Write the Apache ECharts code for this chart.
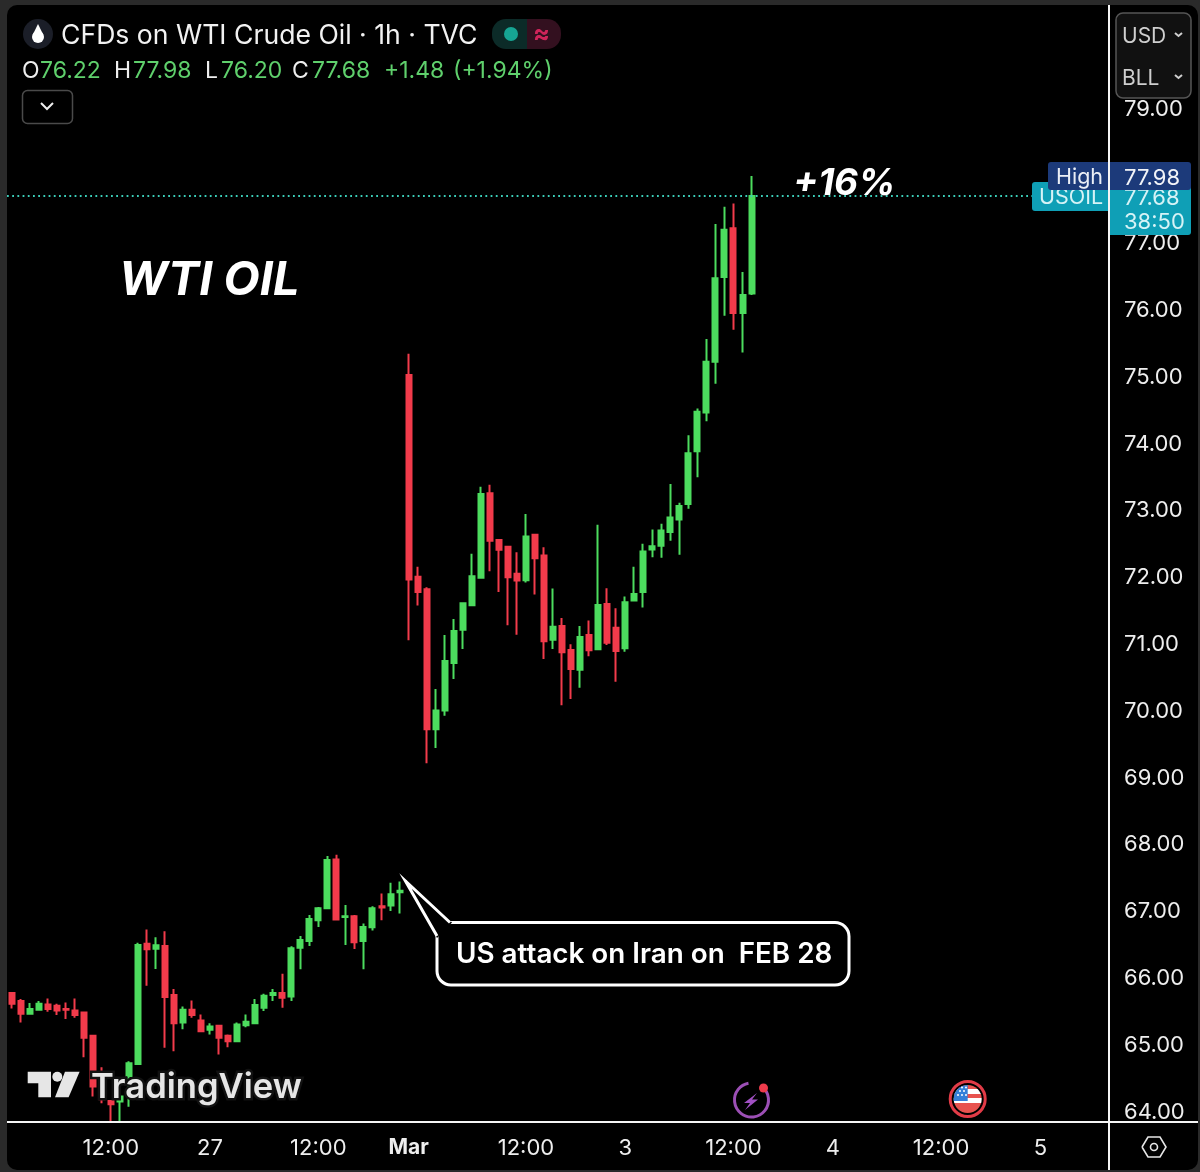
<!DOCTYPE html>
<html>
<head>
<meta charset="utf-8">
<style>
  html, body { margin: 0; padding: 0; background: #2a2a2a; }
  #main { width: 1200px; height: 1172px; }
</style>
<script src="https://cdn.jsdelivr.net/npm/echarts@6/dist/echarts.min.js"></script>
</head>
<body>
<div id="main"></div>
<script>
// hourly candles
var opens = [65.75,65.63,65.44,65.50,65.58,65.56,65.51,65.49,65.46,65.11,64.35,64.135,64.125,64.51,64.69,66.49,66.415,66.455,65.72,65.31,65.50,65.34,65.20,65.26,65.11,65.03,65.27,65.30,65.53,65.72,65.75,65.70,66.43,66.53,66.84,67.02,67.75,66.89,66.90,66.53,66.735,67.05,67.06,67.26,
  75.00,71.98,71.795,69.70,69.98,70.69,71.19,71.555,71.965,73.23,72.53,72.43,72.025,71.93,72.61,72.30,71.04,71.245,70.885,70.59,71.11,70.895,71.575,71.22,70.91,71.625,71.755,72.39,72.445,72.65,72.84,73.07,73.86,74.44,75.20,76.47,77.20,75.93,76.22];
var closes = [65.59,65.44,65.51,65.59,65.51,65.49,65.50,65.42,65.08,64.35,64.16,64.085,64.20,64.70,66.47,66.405,66.465,65.69,65.30,65.50,65.42,65.18,65.25,65.08,65.03,65.28,65.32,65.57,65.71,65.75,65.68,66.42,66.545,66.86,67.02,67.74,66.85,66.90,66.51,66.74,67.02,67.03,67.23,67.28,
  71.94,71.755,69.70,69.98,70.72,71.17,71.585,71.99,73.22,72.52,72.385,71.975,71.925,72.585,72.26,71.015,71.235,70.85,70.60,71.08,70.88,71.56,70.995,70.87,71.60,71.725,72.36,72.44,72.675,72.87,73.04,73.83,74.45,75.20,76.45,77.175,75.93,76.20,77.68];
var lows = [65.52,65.31,65.43,65.50,65.47,65.42,65.36,65.38,64.79,64.20,64.10,63.82,63.82,64.05,64.69,65.86,66.11,64.93,64.88,65.21,65.38,65.18,65.13,64.83,64.94,65.02,65.24,65.30,65.48,65.63,65.53,65.63,66.105,66.455,66.74,67.02,66.84,66.47,66.41,66.105,66.685,66.84,66.98,66.94,
  71.03,71.55,69.19,69.42,69.90,70.45,70.90,71.555,71.955,72.065,71.755,71.255,71.115,71.895,71.715,70.75,70.90,70.06,70.15,70.32,70.79,70.885,70.96,70.41,70.86,71.625,71.52,72.275,72.265,72.52,72.31,73.00,73.47,74.31,74.87,75.89,75.68,75.34,76.20];
var highs = [65.75,65.66,65.60,65.63,65.67,65.59,65.61,65.67,65.46,65.11,64.64,64.135,64.25,64.73,66.505,66.70,66.585,66.675,65.81,65.55,65.64,65.43,65.30,65.27,65.13,65.31,65.43,65.66,65.74,65.81,66.04,66.45,66.605,66.92,67.04,67.80,67.82,67.07,66.92,66.79,67.05,67.24,67.40,67.42,
  75.32,72.13,71.825,70.30,71.11,71.35,71.585,72.325,73.33,73.36,72.54,72.445,72.35,72.92,72.61,72.425,71.805,71.365,70.97,71.245,71.325,72.76,71.81,71.51,71.685,72.13,72.475,72.69,72.775,73.37,73.09,74.10,74.50,75.54,77.26,77.52,77.57,76.545,77.98];

var slotCount = 122;
var tickSlots = [11, 22, 34, 44, 57, 68, 80, 91, 103, 114];
var tickLabels = ['12:00', '27', '12:00', 'Mar', '12:00', '3', '12:00', '4', '12:00', '5'];
var priceTicks = [64, 65, 66, 67, 68, 69, 70, 71, 72, 73, 74, 75, 76, 77, 78, 79];
var lastClose = 77.68;

var categories = [];
for (var i = 0; i < slotCount; i++) {
    categories.push(String(i));
}

var candleData = [];
for (var k = 0; k < opens.length; k++) {
    candleData.push([opens[k], closes[k], lows[k], highs[k]]);
}

var font = 'Inter, "Noto Sans", sans-serif';
var upColor = '#4cdc5e';
var downColor = '#f23b4b';
var legendGreen = '#5fd06c';

// Inter sits a little high, hence the +2
function label(x, y, text, size, color, extra, z) {
    var style = {x: x, y: y + 2, text: text, fontFamily: font, fontSize: size, fill: color, verticalAlign: 'middle'};
    for (var key in (extra || {})) {
        style[key] = extra[key];
    }
    return {type: 'text', z: z || 60, style: style};
}

function box(x, y, w, h, fill, r, z, stroke, lineWidth) {
    return {
        type: 'rect', z: z,
        shape: {x: x, y: y, width: w, height: h, r: r},
        style: {fill: fill, stroke: stroke || null, lineWidth: lineWidth || 0}
    };
}

function line(points, color, width, z) {
    return {type: 'polyline', z: z || 60, shape: {points: points}, style: {fill: null, stroke: color, lineWidth: width}};
}

function poly(points, fill, z) {
    return {type: 'polygon', z: z || 60, shape: {points: points}, style: {fill: fill}};
}

function dot(cx, cy, r, fill, z, stroke, lineWidth) {
    return {type: 'circle', z: z || 60, shape: {cx: cx, cy: cy, r: r}, style: {fill: fill, stroke: stroke || null, lineWidth: lineWidth || 0}};
}

var overlay = [
    // black panel behind everything
    box(7, 5, 1191, 1165, '#000', 10, -10),

    // title row
    dot(38, 34, 15, '#1b1e28'),
    dot(38, 37, 6, '#fff', 61),
    poly([[38, 24], [32.6, 35], [43.4, 35]], '#fff', 61),
    label(61, 34, 'CFDs on WTI Crude Oil · 1h · TVC', 26.6, '#f2f2f2'),
    box(492, 19, 35, 30, '#0c2b28', [14, 0, 0, 14], 60),
    box(527, 19, 34, 30, '#33101f', [0, 14, 14, 0], 60),
    dot(511, 34, 7, '#16a593', 61),
    label(533, 32, '≈', 25, '#d0245a', {fontWeight: 'bold'}, 61),

    // OHLC row
    label(22, 69, 'O', 23, '#eee'),
    label(40, 69, '76.22', 23, legendGreen),
    label(114, 69, 'H', 23, '#eee'),
    label(133, 69, '77.98', 23, legendGreen),
    label(205, 69, 'L', 23, '#eee'),
    label(221, 69, '76.20', 23, legendGreen),
    label(292, 69, 'C', 23, '#eee'),
    label(312, 69, '77.68', 23, legendGreen),
    label(384, 69, '+1.48', 23, legendGreen),
    label(453, 69, '(+1.94%)', 23, legendGreen),

    // collapse button
    box(22.5, 90.5, 50, 33, '#000', 5, 60, '#4a4a4a', 1.5),
    line([[41, 103], [47, 109], [53, 103]], '#eee', 2),

    // big notes
    label(119, 279, 'WTI OIL', 47, '#fff', {fontWeight: 'bold', fontStyle: 'italic'}),
    label(793, 182, '+16%', 37, '#fff', {fontWeight: 'bold', fontStyle: 'italic'}),

    // price tags
    box(1032, 182, 80, 29, '#0f9fb6', [3, 0, 0, 3], 55),
    box(1108, 182, 83, 53, '#0f9fb6', [0, 0, 3, 0], 55),
    label(1039, 196, 'USOIL', 21.5, '#d6f3f6', null, 56),
    label(1124, 196, '77.68', 22, '#d6f3f6', null, 56),
    label(1124, 220, '38:50', 22, '#d6f3f6', null, 56),
    box(1048, 162, 143, 28, '#1c3a7a', 3, 62),
    label(1056, 176, 'High', 21.5, '#eaeef6', null, 63),
    label(1124, 176, '77.98', 22, '#f2f4f8', null, 63),

    // unit box
    box(1116, 13, 75, 85, '#111', 7, 64, '#555', 1.5),
    label(1122, 35, 'USD', 21, '#cfcfcf', null, 65),
    label(1122, 77, 'BLL', 21, '#cfcfcf', null, 65),
    line([[1175, 33], [1178.5, 36], [1182, 33]], '#cfcfcf', 2, 65),
    line([[1175, 75], [1178.5, 78], [1182, 75]], '#cfcfcf', 2, 65),

    // axis rules, on top of the tags
    line([[1109, 5], [1109, 1170]], '#f5f5f5', 2, 70),
    line([[7, 1122], [1198, 1122]], '#f5f5f5', 2, 70),

    // settings hex
    poly([[1142, 1147], [1148, 1137], [1160, 1137], [1166, 1147], [1160, 1157], [1148, 1157]], '#000', 60),
    line([[1142, 1147], [1148, 1137], [1160, 1137], [1166, 1147], [1160, 1157], [1148, 1157], [1142, 1147]], '#e6e6e6', 1.6),
    dot(1154, 1147, 3.5, '#000', 61, '#e6e6e6', 1.6),

    // callout
    box(437, 922.5, 412, 62.5, '#000', 14, 56, '#fff', 3),
    poly([[437, 938], [405.5, 881], [452, 922.5]], '#000', 57),
    line([[437, 936], [405.5, 881], [450, 922.5]], '#fff', 3, 58),
    label(456, 953, 'US attack on Iran on  FEB 28', 27.8, '#fff', {fontWeight: 600}),

    // TradingView mark
    poly([[27.7, 1071.7], [51, 1071.7], [51, 1097.3], [38.3, 1097.3], [38.3, 1083.3], [27.7, 1083.3]], '#e6e6e6', 60),
    dot(57.3, 1076.7, 5, '#e6e6e6'),
    poly([[65, 1071.7], [79.6, 1071.7], [68.6, 1097.3], [55, 1097.3]], '#e6e6e6', 60),
    label(91, 1086, 'TradingView', 34.6, '#e6e6e6', {fontWeight: 600, stroke: '#111', lineWidth: 5}),

    // event icons
    {type: 'arc', z: 60, shape: {cx: 751.5, cy: 1100, r: 17, startAngle: -0.9, endAngle: -1.75, clockwise: true}, style: {stroke: '#9c4fb5', lineWidth: 3, fill: null}},
    poly([[757, 1093], [744, 1103], [750, 1103], [745, 1110], [758, 1099.5], [752, 1099.5]], '#a150c4'),
    dot(763.5, 1088, 4.5, '#ee3b4b', 61),
    dot(967.7, 1099, 17.5, '#000', 60, '#e23b47', 3),
    {type: 'circle', z: 61, shape: {cx: 967.7, cy: 1099, r: 14}, style: {fill: {type: 'linear', x: 0, y: 0, x2: 0, y2: 1, colorStops: [
        {offset: 0, color: '#e8534f'}, {offset: 0.14, color: '#e8534f'}, {offset: 0.14, color: '#fff'}, {offset: 0.32, color: '#fff'},
        {offset: 0.32, color: '#e8534f'}, {offset: 0.46, color: '#e8534f'}, {offset: 0.46, color: '#fff'}, {offset: 0.64, color: '#fff'},
        {offset: 0.64, color: '#e8534f'}, {offset: 1, color: '#e8534f'}]}}},
    {type: 'sector', z: 62, shape: {cx: 967.7, cy: 1099, r: 14, r0: 0, startAngle: Math.PI, endAngle: Math.PI * 1.5}, style: {fill: '#3580d8'}},
    box(953.7, 1099, 14, 2, '#3580d8', 0, 62),
    dot(958, 1095, 1, '#fff', 63), dot(962, 1095, 1, '#fff', 63), dot(966, 1095, 1, '#fff', 63),
    dot(960, 1091, 1, '#fff', 63), dot(964, 1091, 1, '#fff', 63), dot(966, 1087.5, 1, '#fff', 63), dot(962, 1087.5, 1, '#fff', 63)
];

var myChart = echarts.init(document.getElementById('main'));
var option = {
    animation: false,
    backgroundColor: '#2a2a2a',
    graphic: {elements: overlay},
    grid: {left: 7, right: 92, top: 5, bottom: 50, containLabel: false},
    xAxis: {
        type: 'category',
        data: categories,
        axisLine: {show: false},
        axisTick: {show: false},
        splitLine: {show: false},
        axisLabel: {
            color: '#eeeeee',
            fontFamily: font,
            fontSize: 22,
            margin: 15,
            interval: function (index) {
                return tickSlots.indexOf(index) >= 0;
            },
            formatter: function (value, index) {
                var name = tickLabels[tickSlots.indexOf(index)];
                return name === 'Mar' ? '{strong|Mar}' : name;
            },
            rich: {strong: {fontWeight: 'bold', fontSize: 21, fontFamily: font, color: '#eeeeee'}}
        }
    },
    yAxis: {
        type: 'value',
        position: 'right',
        min: 63.82,
        max: 80.54,
        scale: true,
        axisLine: {show: false},
        axisTick: {show: false},
        splitLine: {show: false},
        axisLabel: {
            customValues: priceTicks,
            fontFamily: font,
            fontSize: 22,
            margin: 16,
            formatter: function (value) {
                return '{price|' + value.toFixed(2) + '}';
            },
            rich: {price: {color: '#eeeeee', fontFamily: font, fontSize: 22, padding: [4, 0, 0, 0]}}
        }
    },
    series: [{
        type: 'candlestick',
        data: candleData,
        barWidth: 5.5,
        itemStyle: {
            color: upColor,
            color0: downColor,
            borderColor: upColor,
            borderColor0: downColor,
            borderWidth: 2
        },
        markLine: {
            silent: true,
            symbol: 'none',
            label: {show: false},
            lineStyle: {color: '#3bcdb8', type: [1.8, 3.4], width: 1.8},
            data: [{yAxis: lastClose}]
        }
    }]
};
myChart.setOption(option);
</script>
</body>
</html>
